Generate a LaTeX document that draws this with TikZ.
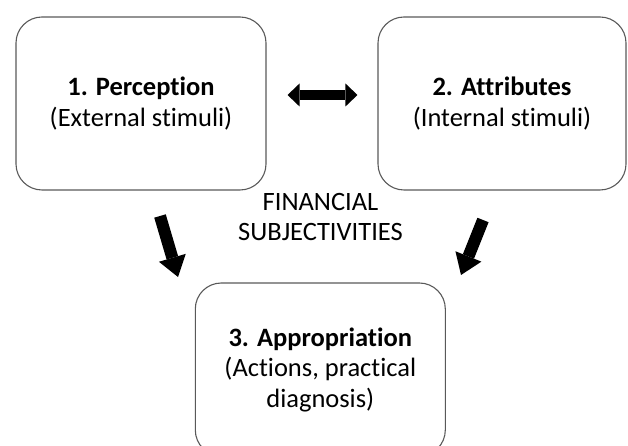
\documentclass[tikz,border=0pt]{standalone}
\usepackage{fontspec}
\setmainfont{Carlito}[Ligatures={NoCommon,NoContextual}]
\usetikzlibrary{arrows.meta}

\begin{document}
\begin{tikzpicture}[x=1pt, y=1pt,
    blk/.style={draw=black!65, line width=1.1pt, rounded corners=26pt, minimum width=250pt, minimum height=173pt, align=center, inner sep=0pt, font=\fontsize{26.5}{30.5}\selectfont},
    bigarr/.style={line width=12pt, -{Triangle[length=20pt, width=28pt, line width=0pt]}},
    dblarr/.style={line width=10pt, {Triangle[length=12pt, width=23pt, line width=0pt]}-{Triangle[length=12pt, width=23pt, line width=0pt]}},
    lbl/.style={align=center, inner sep=0pt, font=\fontsize{26.5}{30.5}\selectfont}
]
\useasboundingbox (0,0) rectangle (628,446);
\clip (0,0) rectangle (628,446);

\node[blk] (perc) at (141,342.5) {\textbf{1. Perception}\\(External stimuli)};
\node[blk, minimum width=248pt] (attr) at (502,342.5) {\textbf{2. Attributes}\\(Internal stimuli)};
\node[blk] (appr) at (320.3,76.5) {\textbf{3. Appropriation}\\(Actions, practical\\diagnosis)};
\node[lbl] (subj) at (320.5,229) {FINANCIAL\\SUBJECTIVITIES};

\coordinate (lft) at (160,230);
\coordinate (rgt) at (483,226);
\coordinate (lfttip) at (178,169);
\coordinate (rgttip) at (461,171);

\draw[dblarr] ([xshift=21pt, yshift=8.5pt]perc.east) -- ([xshift=-20pt, yshift=8.5pt]attr.west);
\draw[bigarr] (lft) -- (lfttip);
\draw[bigarr] (rgt) -- (rgttip);
\end{tikzpicture}
\end{document}
